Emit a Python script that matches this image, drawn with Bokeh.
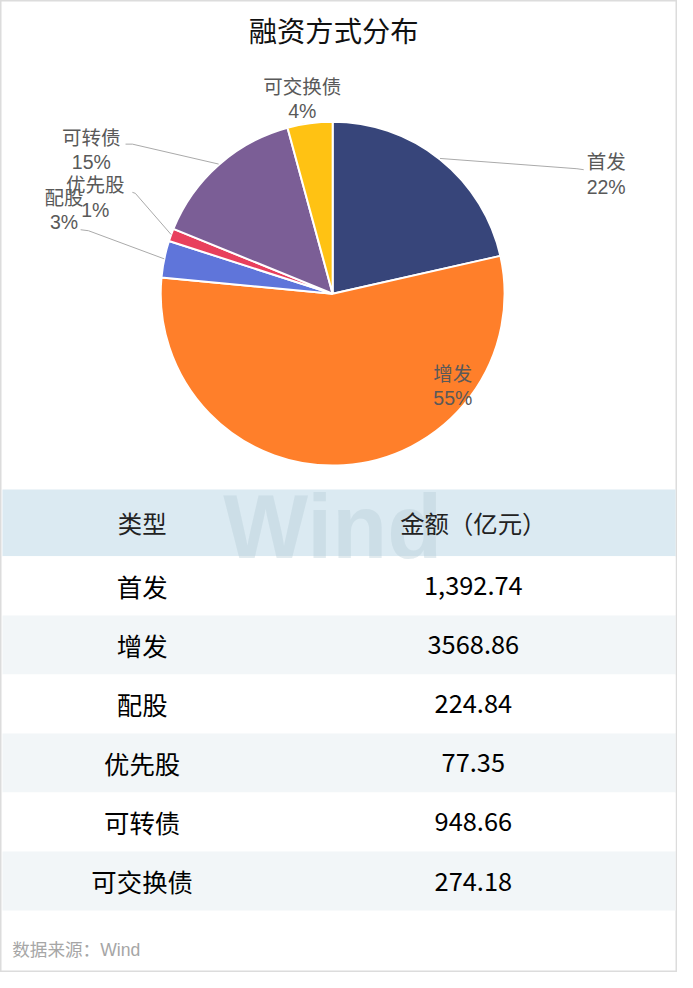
import math
from bokeh.plotting import figure
from bokeh.models import Range1d
from bokeh.core.properties import value
from bokeh.embed import file_html
from bokeh.resources import INLINE

# ---------------- data ----------------
title_text = "融资方式分布"
categories = ["首发", "增发", "配股", "优先股", "可转债", "可交换债"]
amounts = [1392.74, 3568.86, 224.84, 77.35, 948.66, 274.18]
amount_labels = ["1,392.74", "3568.86", "224.84", "77.35", "948.66", "274.18"]
pct_labels = ["22%", "55%", "3%", "1%", "15%", "4%"]
header_labels = ["类型", "金额（亿元）"]
source_note = "数据来源：Wind"
watermark = "Wind"

# ---------------- style / layout ----------------
colors = ["#37457A", "#FF7F2A", "#5F75DA", "#E8405D", "#7B5E96", "#FFC213"]
W, H = 693, 988
PW, PH = 677, 972
K = PW / W
FONT = "Noto Sans CJK SC"
LABEL_FONT = "Liberation Sans, Noto Sans CJK SC"


def Y(y):
    return H - y


def fs(px):
    return f"{px * K:.1f}px"


p = figure(width=PW, height=PH, x_range=Range1d(0, W), y_range=Range1d(0, H),
           output_backend="svg", toolbar_location=None, min_border=0)
p.axis.visible = False
p.grid.visible = False
p.background_fill_color = "white"
p.border_fill_color = "white"
p.outline_line_color = "#DCDCDC"
p.outline_line_width = 2

# ---------------- title ----------------
p.text(x=[341], y=[Y(29)], text=[title_text], text_align="center",
       text_baseline="middle", text_font=value(FONT), text_font_size=fs(29),
       text_color="#111111")

# ---------------- pie ----------------
CX, CY, R = 340, 298, 176
total = sum(amounts)
starts, ends, mids = [], [], []
acc = 0.0
for a in amounts:
    s = math.pi / 2 - 2 * math.pi * acc / total
    acc += a
    e = math.pi / 2 - 2 * math.pi * acc / total
    starts.append(s)
    ends.append(e)
    mids.append((s + e) / 2)

p.wedge(x=[CX] * len(amounts), y=[Y(CY)] * len(amounts), radius=R,
        start_angle=starts, end_angle=ends, direction="clock",
        fill_color=colors, line_color="white", line_width=2)

# label layout (centre of the two-line label) and leader line ends
label_pos = {0: (620, 177), 1: (463, 392), 2: (65, 213), 3: (97, 200),
             4: (93, 152), 5: (309, 100)}
leader_pts = {0: [(590, 171), (597, 172)],
              2: [(90, 234), (82, 233)],
              3: [(138, 196), (135, 195)],
              4: [(135, 146), (128, 146)]}

for i, pts in leader_pts.items():
    ex = CX + R * math.cos(mids[i])
    ey = CY - R * math.sin(mids[i])
    xs = [ex] + [q[0] for q in pts]
    ys = [Y(ey)] + [Y(q[1]) for q in pts]
    p.line(xs, ys, line_color="#AAAAAA", line_width=1)

for i, (lx, ly) in label_pos.items():
    p.text(x=[lx, lx], y=[Y(ly - 12.5), Y(ly + 12.5)],
           text=[categories[i], pct_labels[i]], text_align="center",
           text_baseline="middle", text_font=value(LABEL_FONT),
           text_font_size=fs(20), text_color="#595959")

# ---------------- table ----------------
TL, TR = 2, 691
HEAD_TOP, HEAD_BOT = 497, 565
ROW_H = 60
p.quad(left=[TL], right=[TR], top=[Y(HEAD_TOP)], bottom=[Y(HEAD_BOT)],
       fill_color="#DBEAF2", line_color=None)
row_tops = [HEAD_BOT + i * ROW_H for i in range(len(categories))]
stripe = ["#FFFFFF" if i % 2 == 0 else "#F2F6F8" for i in range(len(categories))]
p.quad(left=[TL] * len(categories), right=[TR] * len(categories),
       top=[Y(t) for t in row_tops], bottom=[Y(t + ROW_H) for t in row_tops],
       fill_color=stripe, line_color=None)

# watermark
p.text(x=[340], y=[Y(535)], text=[watermark], text_align="center",
       text_baseline="middle", text_font=value("Liberation Sans"),
       text_font_size=fs(92), text_font_style="bold",
       text_color="#B7CCD7", text_alpha=0.4)

COL1, COL2 = 145, 484
hy = (HEAD_TOP + HEAD_BOT) / 2
p.text(x=[COL1, COL2], y=[Y(hy), Y(hy)], text=header_labels,
       text_align="center", text_baseline="middle", text_font=value(FONT),
       text_font_size=fs(25), text_color="#222222")

ry = [Y(t + ROW_H / 2) for t in row_tops]
p.text(x=[COL1] * len(categories), y=ry, text=categories, text_align="center",
       text_baseline="middle", text_font=value(FONT), text_font_size=fs(26),
       text_color="#000000")
p.text(x=[COL2] * len(categories), y=ry, text=amount_labels, text_align="center",
       text_baseline="middle", text_font=value(FONT), text_font_size=fs(26),
       text_color="#000000")

# ---------------- footer ----------------
p.text(x=[12], y=[Y(965)], text=[source_note], text_align="left",
       text_baseline="middle", text_font=value(LABEL_FONT), text_font_size=fs(18),
       text_color="#A6A6A6")

open("out.html", "w").write(file_html(p, INLINE))
